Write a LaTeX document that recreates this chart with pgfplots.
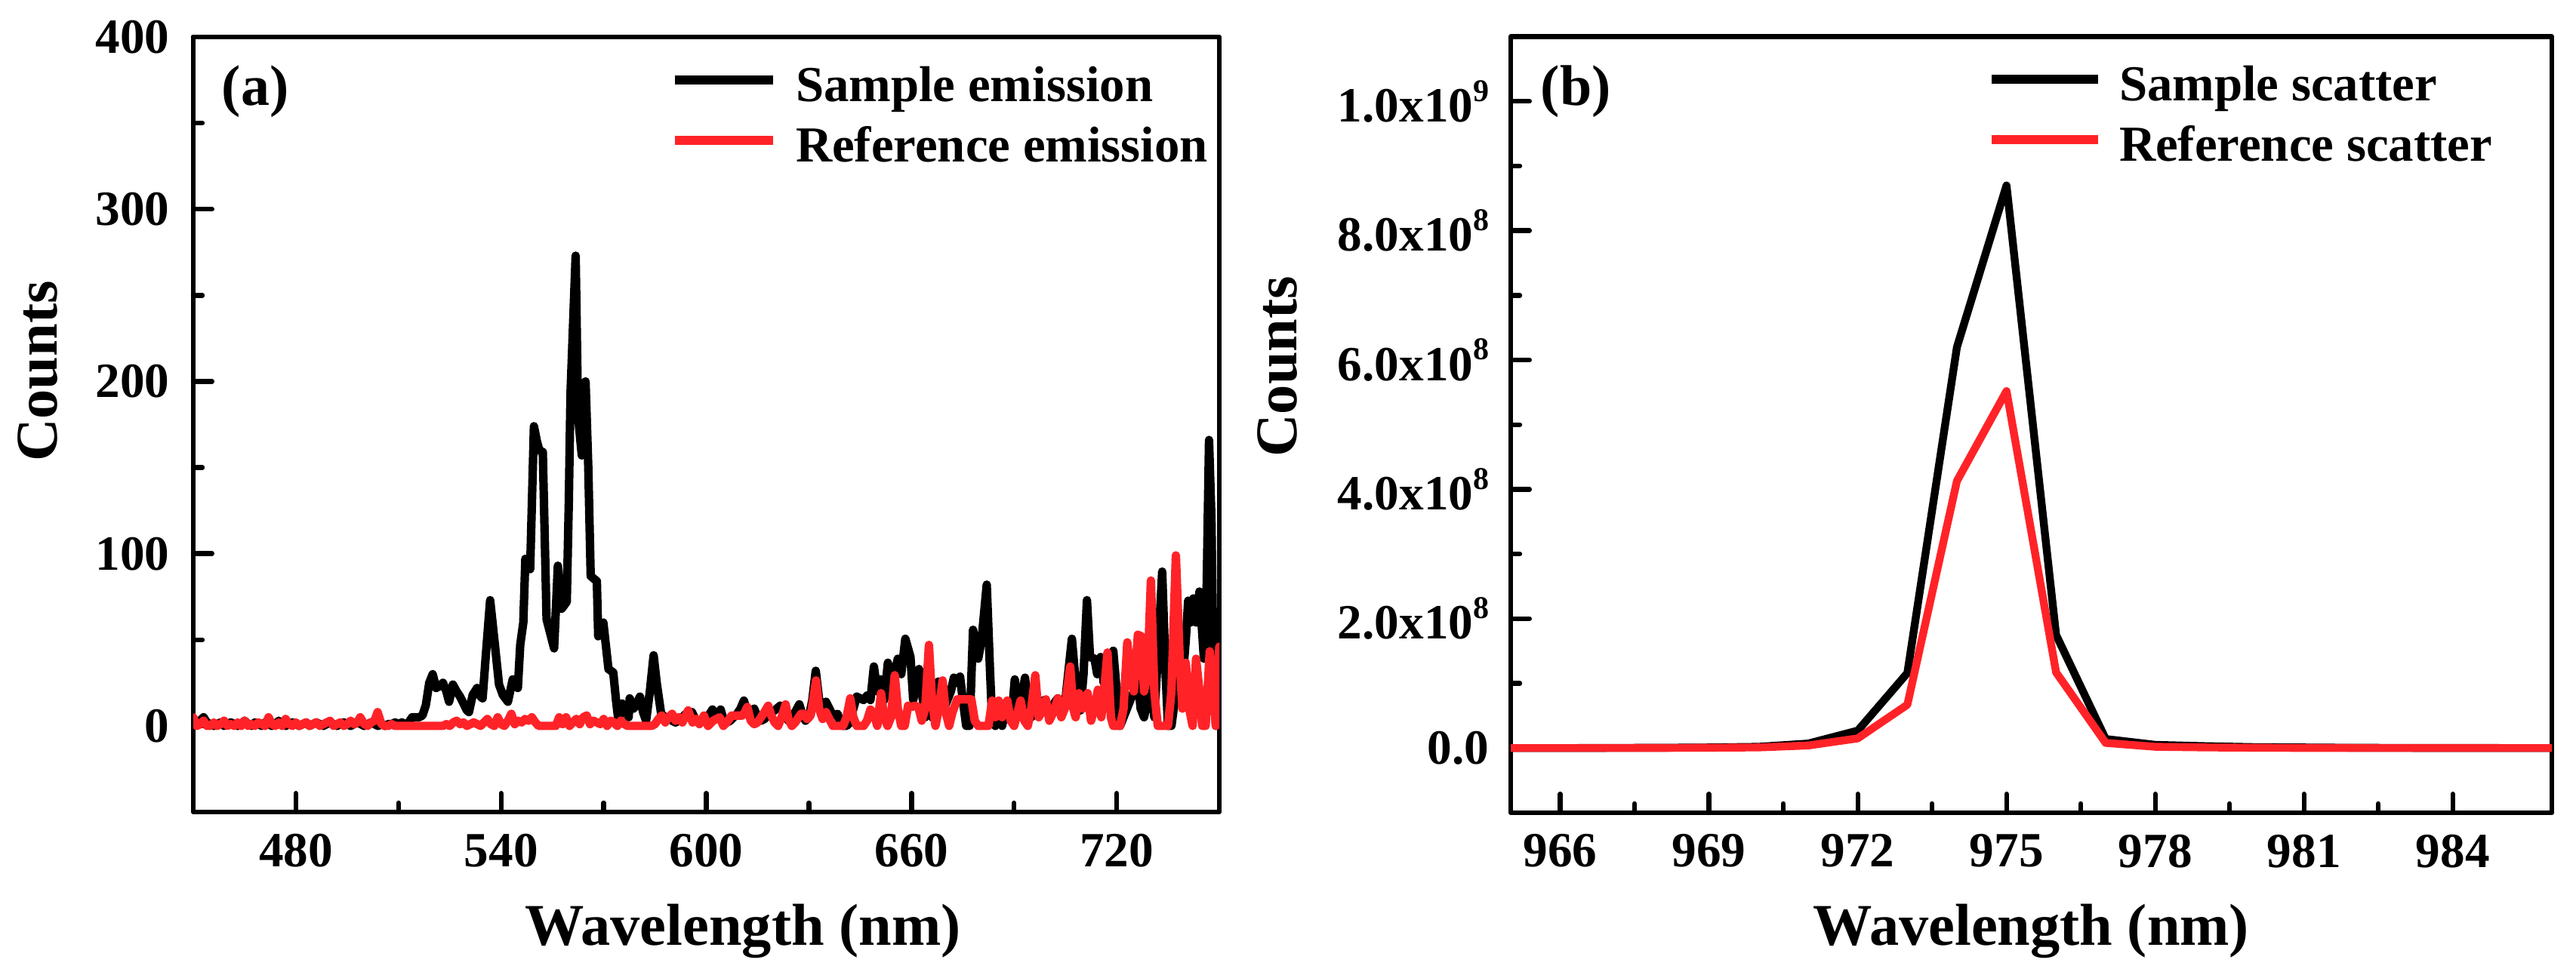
\documentclass[border=0pt]{standalone}
\usepackage{fontspec}
\setmainfont{Liberation Serif}
\usepackage{pgfplots}
\pgfplotsset{compat=1.18}
\definecolor{myred}{RGB}{255,35,40}
\newcommand{\tf}{\fontsize{16.3pt}{16.3pt}\selectfont\bfseries}
\newcommand{\lf}{\fontsize{19.6pt}{19.6pt}\selectfont\bfseries}
\newcommand{\legf}{\fontsize{16.7pt}{16.7pt}\selectfont\bfseries}
\newcommand{\pf}{\fontsize{19pt}{19pt}\selectfont\bfseries}
\newcommand{\supnum}[1]{\raisebox{6.8pt}{\fontsize{10.5pt}{10.5pt}\selectfont\bfseries #1}}
\pgfplotsset{mystyle/.style={scale only axis,
  axis line style={line width=1.6pt},
  tick align=inside, xtick pos=left, ytick pos=left,
  major tick length=6.2pt, minor tick length=3pt,
  major tick style={line width=1.6pt, black},
  minor tick style={line width=1.6pt, black},
  /pgf/number format/assume math mode=true,
  tick label style={font=\tf, inner sep=0pt},
  x tick label style={yshift=-7pt},
  label style={font=\lf, inner sep=0pt},
  legend cell align=left,
  legend style={draw=none, fill=none, inner sep=0pt, font=\legf,
    nodes={inner sep=0pt, text height=12pt, text depth=8pt}},
}}
\begin{document}
\begin{tikzpicture}
\path[use as bounding box] (0,0) rectangle (853pt,323pt);
% ---------------- panel (a)
\begin{axis}[mystyle, at={(64pt,54pt)}, anchor=south west,
  width=339.75pt, height=256.75pt,
  xmin=450, xmax=750, ymin=-50, ymax=400,
  xtick={480,540,...,720}, ytick={0,100,...,400},
  minor x tick num=1, minor y tick num=1,
  y tick label style={xshift=-7.75pt},
  xlabel={Wavelength (nm)}, ylabel={Counts},
  xlabel style={at={(axis description cs:0.5357,-0.1714)}, anchor=base},
  ylabel style={at={(axis description cs:-0.1516,0.5686)}, anchor=center},
  legend style={at={(0.4645,0.9638)}, anchor=north west,
    /tikz/every odd column/.append style={column sep=6pt}},
  legend image code/.code={\draw[#1, line width=3pt, line cap=butt] (0pt,5.3pt) -- (32.5pt,5.3pt);},
  line join=round, line cap=round]
\addplot[black, line width=2.8pt] coordinates {
(450,2)(451,1)(452,3)(453,5)(454,2)(455,1)(456,0)(457,1)(458,2)(459,0)(460,1)(461,2)(462,1)(463,0)(464,1)(465,3)(466,1)(467,0)(468,2)(469,1)
(470,0)(471,2)(472,1)(473,0)(474,1)(475,3)(476,1)(477,0)(478,1)(479,2)(480,1)(481,0)(482,1)(483,2)(484,0)(485,1)(486,2)(487,1)(488,0)(489,1)
(490,2)(491,1)(492,0)(493,1)(494,2)(495,1)(496,0)(497,1)(498,2)(499,1)(500,0)(501,1)(502,2)(503,1)(504,0)(505,1)(506,0)(507,1)(508,1)(509,2)
(510,1)(511,2)(512,1)(513,2)(514,5)(515,5)(516,5)(517,6)(518,12)(519,25)(520,30)(521,22)(522,23)(523,25)(524,20)(524.8,14)(525.9,24)(527,20)(528,17)(529,13)
(530,9)(530.6,8)(531.7,18)(533,22)(534,17)(534.6,16)(535.5,40)(536.8,73)(537.5,60)(538.3,45)(539.4,24)(540.5,18)(542,14)(543.4,27)(544.9,22)(545.6,47)(546.5,60)(547.1,97)(548.5,91)(549.6,174)
(550.5,165)(551.2,160)(552.2,159)(553.3,62)(554.2,55)(555.5,45)(556.6,93)(557.7,68)(559.2,72)(559.8,130)(560.3,193)(561.8,273)(562.5,180)(563.6,157)(564.7,200)(565.5,150)(566.2,87)(568,84)(568.4,52)(569.9,60)
(571.4,33)(572.8,31)(573.6,15)(574.3,3)(575.4,13)(576.3,10)(577.3,5)(577.6,16)(578.7,10)(579.5,12)(580.6,17)(581.5,8)(582.4,3)(583.5,20)(584.6,41)(585.5,25)(586.8,7)(588,5)(589,5)(590,3)
(591,2)(592,3)(593,5)(594,7)(595,6)(595.8,8)(597,3)(598,2)(599,3)(600,5)(601,7)(601.8,9.5)(603,6)(604.2,9.5)(605,4)(606,2)(607,3)(608,5)(609,7)(610,10)
(611,14.7)(612,8)(613,6)(614,10)(615,5)(616,3)(617,4)(618,6)(619,8)(620,9)(621.6,11.7)(623,6)(624,3)(625,5)(626,8)(627.2,12.5)(628,7)(629,3)(630,5)(631,15)
(632,32)(633,15)(634,8)(635,14)(636,10)(637,6)(638.4,7)(639,3)(640,0)(641,0)(642,2)(643,10)(644,17)(645,16)(646,15)(647,17.6)(648,15)(649,34.5)(650,20)(651,27)
(652,15)(653.1,36.7)(654,20)(655,30)(656,39)(657,30)(658.2,50.6)(659.7,40)(660.5,15)(661,20)(662.2,33)(663,20)(664,5)(665,10)(666,5)(667,15)(667.8,25.7)(668.5,20)(669.5,10)(670.5,15)
(671.5,20)(672.4,28)(673.2,25)(674.2,28.6)(675,15)(676,0)(677,0)(678,55.8)(679,45)(679.5,39)(680.5,50)(682,82)(683,30)(683.6,2)(684.5,0)(685.5,5)(686.5,0)(687.5,10)(688.5,5)(689.5,10)
(690.2,27)(691,10)(692,15)(693.2,28)(694,12)(695,5)(696,8)(697,12)(698,10)(698.8,15)(700,12)(701,10)(702,14)(702.8,16)(703.8,10)(705,15)(706.9,50.6)(707.8,30)(708.5,15)(709.4,9)
(710.3,30)(711.3,73)(712.2,40)(713.5,39)(714.3,30)(715.3,40)(716.2,25)(717.2,35)(718,40)(719,43.6)(720,20)(721,0)(722,5)(723,10)(724,15)(725,20)(726,30)(727,10)(728,5)(729,15)
(730,25)(731,5)(732,40)(733.3,89.6)(734.3,30)(735,0)(736,0)(737,15)(738,30)(739,20)(740.2,50)(740.9,72.7)(741.6,60)(742.4,74)(743.2,60)(744.2,78)(745.5,39)(746.3,80)(747,166)(747.7,120)
(748.3,30)(749,0)(749.5,20)(750,45)
};
\addlegendentry{Sample emission}
\addplot[myred, line width=2.8pt] coordinates {
(450,5)(451,0)(452,1)(453,3)(454,0)(455,0)(456,2)(457,0)(458,1)(459,3)(460,0)(461,1)(462,0)(463,2)(464,0)(465,3)(466,0)(467,1)(468,0)(469,2)
(470,1)(471,0)(472,5)(473,1)(474,0)(475,2)(476,0)(477,4)(478,1)(479,0)(480,2)(481,0)(482,1)(483,2)(484,0)(485,1)(486,2)(487,0)(488,1)(489,2)
(490,3)(491,0)(492,1)(493,2)(494,0)(495,1)(496,3)(497,1)(498,2)(498.8,5)(500,1)(501,0)(502,2)(503,3)(503.9,8)(505,1)(506,0)(507,0)(508,1)(509,0)
(510,0)(511,0)(512,0)(513,0)(514,0)(515,0)(516,0)(517,0)(518,0)(519,0)(520,0)(521,0)(522,0)(523,0)(524,1)(525,0)(526,2)(527,3)(528,1)(529,2)
(530,0)(531,1)(532,2)(533,1)(534,0)(535,2)(536,4)(537,1)(538,0)(539,5)(540,1)(541,0)(542,3)(543,7)(544,1)(545,3)(546,2)(547,4)(548,3)(549,5)
(550,2)(551,0)(552,0)(553,0)(554,0)(555,0)(556,0)(557,5)(558,1)(559,5)(560,0)(561,2)(562,4)(563,1)(564,5)(565,6)(566,1)(567,3)(568,2)(569,1)
(570,4)(571,0)(572,3)(573,2)(574,0)(575,3)(576,1)(577,0)(578,0)(579,0)(580,0)(581,0)(582,0)(583,0)(584,0)(585,1)(586,4)(587,6)(588,2)(589,5)
(590,7)(591,3)(592,5)(593,2)(594.7,9)(596,2)(597,4)(598,1)(599.3,6)(600.5,0)(602,3)(603.9,5)(605,0)(606,2)(607.4,6)(609,6)(610.5,6)(611.3,8)(612,11)(613,3)
(614,1)(615,2)(616,5)(617,8)(618.1,11.7)(619,6)(620,2)(621,0)(622,5)(623.2,12.5)(624,4)(625,0)(626,2)(627.7,7)(628.5,7)(629.5,4)(630.5,6)(631,12)(632.1,26.4)(633,10)
(634,4)(635,8)(636,4)(637,0)(638,0)(639,0)(640,0)(641,5)(642.1,16)(643,5)(644,0)(645,0)(646,0)(647,3)(648,9.5)(649,7)(650,0)(651.1,19)(652,5)(653,0)
(654,5)(655.1,29.4)(656,10)(657,0)(658,0)(659,11.7)(660,11)(661,11.7)(662,11)(663,3)(664,10)(665.1,47)(666,15)(667,0)(668,10)(669.1,26.4)(670,8)(671,0)(672,8)(673.4,15.4)
(675,15.4)(676.5,15.4)(677.5,15.4)(678.5,3)(679.5,0)(680.5,0)(681.5,0)(682.5,0)(683.6,14.7)(684.5,5)(685.5,14.7)(686.5,5)(688,14.7)(689,3)(690,0)(691.9,14.7)(693,3)(694,0)(695,10)(696.2,29.4)
(697.2,5)(698,8)(699.3,15.4)(700.3,3)(701.5,8)(702.8,16)(703.8,5)(704.8,10)(706.4,34.5)(707.3,10)(708,5)(709,19)(710,10)(711.5,19)(712.5,3)(713.5,10)(714.5,21)(715.5,5)(716.3,20)(717.3,42.6)
(718.3,5)(719,0)(720,0)(721,0)(722,10)(723.1,48.5)(724,30)(725,20)(726.2,52.9)(727.2,52)(728,20)(729,30)(730,84.4)(731,20)(732,0)(733,0)(734,0)(735,0)(736,20)(737.3,99)
(738.4,40)(739.2,10)(740.2,36.7)(741.2,10)(742.2,0)(743.2,39)(744.2,20)(745,0)(746,0)(747.2,43.3)(748.2,20)(749,0)(750,46)
};
\addlegendentry{Reference emission}
\node[anchor=west, inner sep=0pt, font=\pf] at (rel axis cs:0.0272,0.9299) {(a)};
\end{axis}
% ---------------- panel (b)
\begin{axis}[mystyle, at={(500.25pt,53.75pt)}, anchor=south west,
  width=344.75pt, height=257.1pt,
  xmin=965, xmax=986, ymin=-1e8, ymax=1.1e9,
  xtick={966,969,...,984},
  ytick={0,2e8,4e8,6e8,8e8,1e9},
  yticklabels={{0.0},{2.0x10\supnum{8}},{4.0x10\supnum{8}},{6.0x10\supnum{8}},{8.0x10\supnum{8}},{1.0x10\supnum{9}}},
  scaled y ticks=false,
  y tick label style={xshift=-7pt},
  minor x tick num=1, minor y tick num=1,
  xlabel={Wavelength (nm)}, ylabel={Counts},
  xlabel style={at={(axis description cs:0.5,-0.1702)}, anchor=base},
  ylabel style={at={(axis description cs:-0.2241,0.5747)}, anchor=center},
  legend style={at={(0.457,0.9644)}, anchor=north west,
    /tikz/every odd column/.append style={column sep=5.5pt}},
  legend image code/.code={\draw[#1, line width=3pt, line cap=butt] (0pt,5.3pt) -- (35.25pt,5.3pt);},
  line join=round, line cap=round]
\addplot[black, line width=2.6pt] coordinates {
(965,0)(966,0)(967,3e5)(968,5e5)(969,1e6)(970,2e6)(971,7e6)(972,2.7e7)(973,1.16e8)(974,6.2e8)(975,8.7e8)
(976,1.75e8)(977,1.4e7)(978,5e6)(979,3e6)(980,1.5e6)(981,1e6)(982,5e5)(983,3e5)(984,2e5)(985,1e5)(986,0)
};
\addlegendentry{Sample scatter}
\addplot[myred, line width=2.6pt] coordinates {
(965,0)(966,0)(967,0)(968,2e5)(969,5e5)(970,1e6)(971,4e6)(972,1.5e7)(973,6.7e7)(974,4.13e8)(975,5.52e8)
(976,1.17e8)(977,8e6)(978,2e6)(979,1e6)(980,5e5)(981,2e5)(982,1e5)(983,0)(984,0)(985,0)(986,0)
};
\addlegendentry{Reference scatter}
\node[anchor=west, inner sep=0pt, font=\pf] at (rel axis cs:0.0283,0.9296) {(b)};
\end{axis}
\end{tikzpicture}
\end{document}
